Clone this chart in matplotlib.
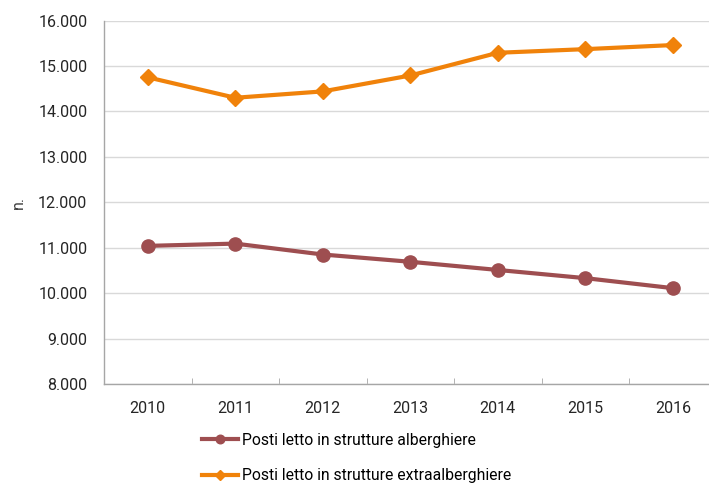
import matplotlib.pyplot as plt
from matplotlib.ticker import FuncFormatter, FixedLocator

plt.rcParams['font.family'] = ['Roboto', 'DejaVu Sans']

years = ['2010', '2011', '2012', '2013', '2014', '2015', '2016']
alberghiere = [11040, 11090, 10850, 10690, 10510, 10330, 10110]
extraalberghiere = [14750, 14300, 14440, 14790, 15290, 15370, 15460]

brown = '#9E4E50'
orange = '#F0820A'

fig = plt.figure(figsize=(7.09, 4.84), dpi=100)
ax = fig.add_axes([0.1467, 0.2066, 0.864, 0.751])

x = range(len(years))
ax.plot(x, alberghiere, color=brown, lw=3, marker='o', ms=9.5,
        label='Posti letto in strutture alberghiere', zorder=3)
ax.plot(x, extraalberghiere, color=orange, lw=3, marker='D', ms=8.5,
        label='Posti letto in strutture extraalberghiere', zorder=3)

ax.set_xlim(-0.5, len(years) - 0.5)
ax.set_ylim(8000, 16000)
ax.set_yticks(range(8000, 16001, 1000))
ax.yaxis.set_major_formatter(FuncFormatter(lambda v, p: f'{int(v):,}'.replace(',', '.')))
ax.set_xticks(list(x))
ax.set_xticklabels(years)
ax.xaxis.set_minor_locator(FixedLocator([i + 0.5 for i in range(len(years) - 1)]))

ax.grid(axis='y', color='#D9D9D9', lw=1)
ax.set_axisbelow(True)
for s in ['top', 'right']:
    ax.spines[s].set_visible(False)
for s in ['left', 'bottom']:
    ax.spines[s].set_color('#A6A6A6')
    ax.spines[s].set_linewidth(1)

ax.tick_params(axis='y', length=0, pad=12, labelsize=11.5, labelcolor='#262626')
ax.tick_params(axis='x', which='major', length=0, pad=12, labelsize=11.5, labelcolor='#262626')
ax.tick_params(axis='x', which='minor', direction='in', length=4, color='#A6A6A6')

ax.set_ylabel('n.', fontsize=11.5, color='#404040', labelpad=9)

fig.legend(loc='upper left', bbox_to_anchor=(0.285, 0.106), frameon=False,
           fontsize=11.3, handlelength=2.3, handletextpad=0.25, labelspacing=1.3,
           markerscale=0.65, borderpad=0, borderaxespad=0)

fig.savefig('out.png', dpi=100)
